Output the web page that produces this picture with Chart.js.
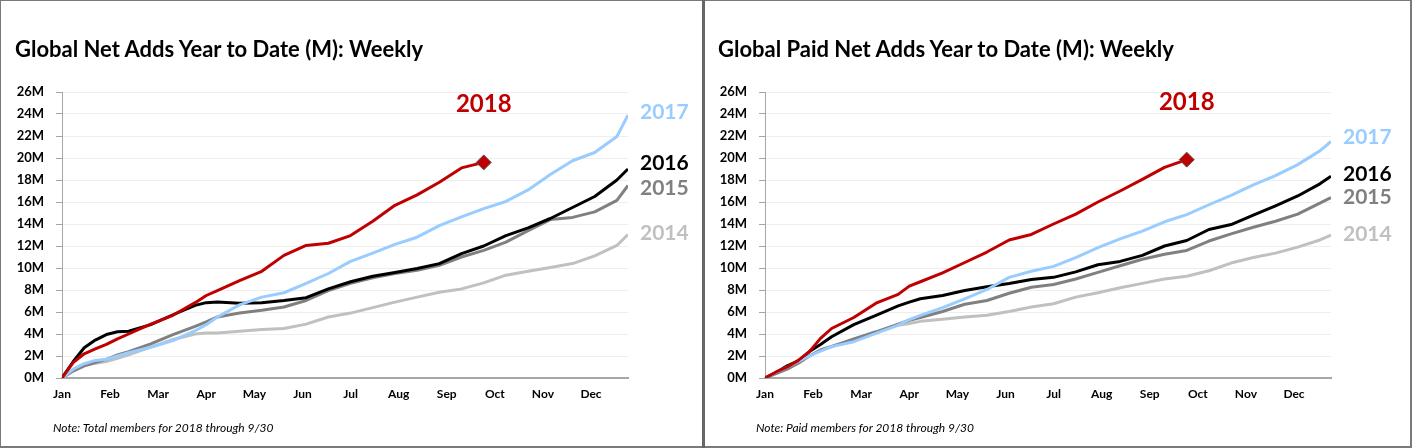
<!DOCTYPE html>
<html>
<head>
<meta charset="utf-8">
<script src="https://cdn.jsdelivr.net/npm/chart.js@4.4.1/dist/chart.umd.min.js"></script>
<style>
html,body{margin:0;padding:0;background:#fff;}
#stage{position:absolute;left:0;top:0;width:1412px;height:448px;overflow:hidden;background:#fff;}
.panel{position:absolute;top:0;width:703px;height:448px;}
.panel canvas{position:absolute;left:0;top:0;}
.title{position:absolute;left:15px;top:38px;font-family:Lato,sans-serif;font-weight:bold;font-size:22px;line-height:22px;white-space:nowrap;color:#000;}
.note{position:absolute;left:53px;top:422px;font-family:Lato,sans-serif;font-style:italic;font-size:12px;line-height:12px;white-space:nowrap;color:#000;}
.line{position:absolute;background:#7a7a7a;}
</style>
</head>
<body>
<div id="stage">
  <div class="panel" style="left:0px;">
    <canvas id="c1" width="703" height="448"></canvas>
    <div class="title">Global Net Adds Year to Date (M): Weekly</div>
    <div class="note">Note: Total members for 2018 through 9/30</div>
  </div>
  <div class="panel" style="left:703px;">
    <canvas id="c2" width="703" height="448"></canvas>
    <div class="title">Global Paid Net Adds Year to Date (M): Weekly</div>
    <div class="note">Note: Paid members for 2018 through 9/30</div>
  </div>
  <div class="line" style="left:0;top:0;width:1412px;height:1px;"></div>
  <div class="line" style="left:0;top:0;width:1px;height:448px;"></div>
  <div class="line" style="left:1410px;top:0;width:2px;height:448px;"></div>
  <div class="line" style="left:0;top:446px;width:1412px;height:2px;"></div>
  <div class="line" style="left:702px;top:0;width:3px;height:448px;background:#666;"></div>
</div>
<script>
// ---- shared axes ----
const WEEKS = [0,1,2,3,4,5,6,8,10,12,13,14,16,18,20,22,24,26,28,30,32,34,36,38,40,42,44,46,48,50,51];
const MONTH_LABELS = ['Jan','Feb','Mar','Apr','May','Jun','Jul','Aug','Sep','Oct','Nov','Dec'];
const Y_TICK_LABELS = ['0M','2M','4M','6M','8M','10M','12M','14M','16M','18M','20M','22M','24M','26M'];
const YEARS = ['2018','2017','2016','2015','2014'];

// ---- chart 1: Global Net Adds (M), year to date ----
const total2018 = [0,1.4,2.2,2.65,3.05,3.55,4.0,4.9,5.7,6.85,7.5,7.95,8.85,9.7,11.15,12.05,12.25,12.95,14.25,15.7,16.65,17.8,19.1,19.6];
const total2017 = [0,0.8,1.3,1.6,1.7,2.0,2.3,2.8,3.4,4.3,4.85,5.55,6.65,7.35,7.75,8.6,9.5,10.6,11.35,12.15,12.8,13.85,14.65,15.4,16.05,17.1,18.5,19.75,20.5,21.95,23.9];
const total2016 = [0,1.48,2.75,3.45,3.95,4.2,4.25,4.85,5.75,6.6,6.85,6.9,6.8,6.85,7.05,7.3,8.1,8.75,9.25,9.6,9.95,10.4,11.3,12.0,12.95,13.65,14.5,15.5,16.5,18.0,19.0];
const total2015 = [0,0.65,1.1,1.4,1.7,2.1,2.4,3.1,3.95,4.7,5.1,5.55,5.9,6.15,6.45,7.05,7.95,8.6,9.1,9.5,9.8,10.25,11.0,11.6,12.35,13.4,14.4,14.6,15.1,16.15,17.5];
const total2014 = [0,0.6,1.1,1.35,1.5,1.8,2.1,2.8,3.5,4.0,4.1,4.1,4.25,4.4,4.5,4.9,5.55,5.9,6.4,6.9,7.35,7.8,8.1,8.65,9.35,9.7,10.05,10.4,11.1,12.05,13.05];

// ---- chart 2: Global Paid Net Adds (M), year to date ----
const paid2018 = [0,0.55,1.0,1.6,2.4,3.6,4.5,5.5,6.8,7.6,8.35,8.75,9.55,10.5,11.45,12.55,13.05,14.0,14.9,16.0,17.0,18.05,19.15,19.85];
const paid2017 = [0,0.5,1.0,1.5,2.0,2.45,2.85,3.3,4.05,4.8,5.3,5.7,6.4,7.2,8.05,9.15,9.7,10.15,10.95,11.85,12.65,13.35,14.2,14.85,15.75,16.6,17.55,18.4,19.4,20.65,21.5];
const paid2016 = [0,0.5,1.1,1.55,2.4,3.05,3.75,4.85,5.7,6.55,6.9,7.2,7.5,7.95,8.3,8.6,8.95,9.15,9.65,10.3,10.6,11.15,12.0,12.5,13.5,13.95,14.8,15.65,16.55,17.65,18.35];
const paid2015 = [0,0.4,0.8,1.35,2.0,2.55,2.85,3.55,4.2,4.9,5.25,5.5,6.05,6.7,7.05,7.7,8.25,8.5,9.0,9.6,10.2,10.8,11.25,11.6,12.45,13.1,13.7,14.25,14.9,15.9,16.4];
const paid2014 = [0,0.5,0.9,1.45,2.0,2.55,2.9,3.5,4.1,4.8,4.95,5.15,5.35,5.55,5.7,6.05,6.45,6.75,7.35,7.75,8.2,8.6,9.0,9.25,9.75,10.45,10.95,11.35,11.9,12.55,13.0];

// year-label anchors (value units): x in weeks (null = right of plot), y in millions
const totalLabelAt = [{x:38,y:24.9},{x:null,y:24.2},{x:null,y:19.5},{x:null,y:17.25},{x:null,y:13.15}];
const paidLabelAt  = [{x:38,y:25.1},{x:null,y:21.9},{x:null,y:18.5},{x:null,y:16.4},{x:null,y:13.05}];

const STYLE = [
  {color:'#C00000', text:'#C00000', size:24},
  {color:'#99CCFF', text:'#99CCFF', size:21},
  {color:'#000000', text:'#000000', size:21},
  {color:'#808080', text:'#808080', size:21},
  {color:'#C0C0C0', text:'#C0C0C0', size:21}
];

function pts(vals){ return vals.map((v,i)=>({x:WEEKS[i], y:v})); }

const yearLabelPlugin = {
  id:'yearLabels',
  afterDatasetsDraw(chart, args, opts){
    const ctx = chart.ctx, xs = chart.scales.x, ys = chart.scales.y;
    ctx.save();
    ctx.textBaseline = 'middle';
    opts.anchors.forEach((a,i)=>{
      const st = STYLE[i];
      ctx.font = 'bold ' + st.size + 'px Lato';
      ctx.fillStyle = st.text;
      const py = ys.getPixelForValue(a.y);
      if (a.x === null) {
        ctx.textAlign = 'left';
        ctx.fillText(YEARS[i], chart.chartArea.right + 12, py);
      } else {
        ctx.textAlign = 'center';
        ctx.fillText(YEARS[i], xs.getPixelForValue(a.x), py);
      }
    });
    ctx.restore();
  }
};

function makeChart(id, series, anchors){
  const datasets = series.map((vals,i)=>{
    const last = vals.length - 1;
    return {
      label: YEARS[i],
      data: pts(vals),
      borderColor: STYLE[i].color,
      backgroundColor: STYLE[i].color,
      borderWidth: 3,
      tension: 0,
      fill: false,
      borderJoinStyle: 'round',
      pointStyle: 'rectRot',
      pointRadius: i === 0 ? (c => c.dataIndex === last ? 7.5 : 0) : 0,
      pointBackgroundColor: '#C00000',
      pointBorderColor: '#5a5a5a',
      pointBorderWidth: 1,
      pointHoverRadius: 0
    };
  });
  return new Chart(document.getElementById(id), {
    type: 'line',
    data: { datasets },
    plugins: [yearLabelPlugin],
    options: {
      responsive: false,
      animation: false,
      devicePixelRatio: 1,
      layout: { padding: { left: 0, right: 75, top: 92, bottom: 40 } },
      plugins: {
        legend: { display: false },
        tooltip: { enabled: false },
        title: { display: false },
        yearLabels: { anchors }
      },
      scales: {
        x: {
          type: 'linear',
          min: 0, max: 51,
          afterBuildTicks: s => { s.ticks = MONTH_LABELS.map((m,i)=>({ value: i*52/12 })); },
          afterFit: s => { s.height = 30; },
          grid: { color: 'rgba(0,0,0,0)', drawTicks: false },
          border: { display: true, color: '#a6a6a6', width: 2 },
          ticks: {
            autoSkip: false, maxRotation: 0, padding: 9,
            color: '#000', font: { family: 'Lato', weight: 'bold', size: 12 },
            callback: (v, i) => MONTH_LABELS[i]
          }
        },
        y: {
          min: 0, max: 26,
          afterBuildTicks: s => { s.ticks = Y_TICK_LABELS.map((t,i)=>({ value: i*2 })); },
          afterFit: s => { s.width = 62; },
          grid: { color: '#eeeeee', lineWidth: 1, drawTicks: true, tickLength: 6, tickColor: '#a6a6a6' },
          border: { display: true, color: '#a6a6a6', width: 1 },
          ticks: {
            padding: 12, color: '#000',
            font: { family: 'Lato', weight: 'bold', size: 13 },
            callback: (v, i) => Y_TICK_LABELS[i]
          }
        }
      }
    }
  });
}

makeChart('c1', [total2018, total2017, total2016, total2015, total2014], totalLabelAt);
makeChart('c2', [paid2018, paid2017, paid2016, paid2015, paid2014], paidLabelAt);
</script>
</body>
</html>
